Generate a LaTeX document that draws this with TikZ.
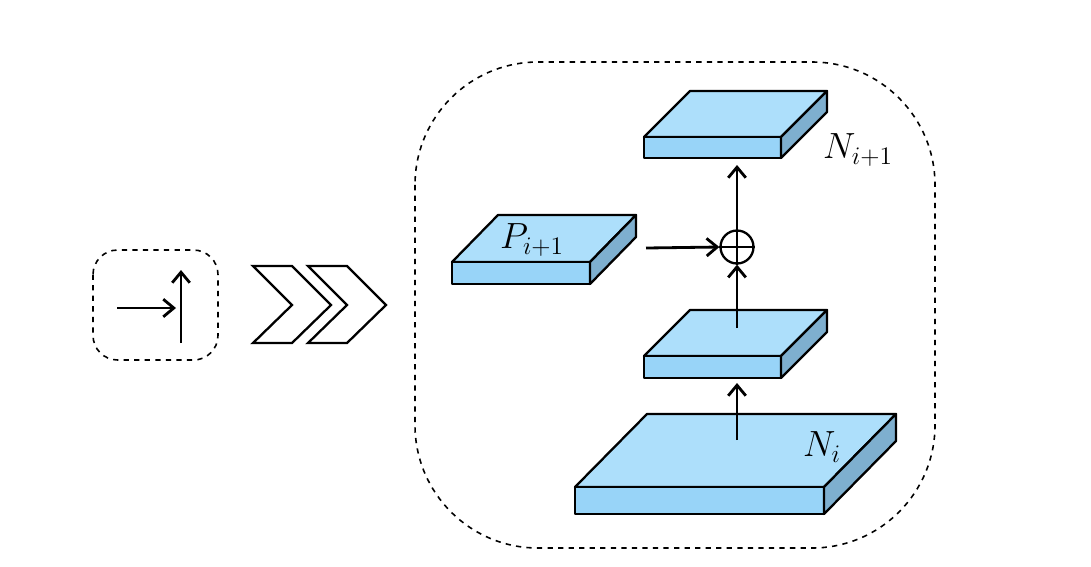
\documentclass[tikz,border=0pt]{standalone}
\usetikzlibrary{arrows.meta}
\begin{document}
\begin{tikzpicture}[x=0.02cm,y=-0.02cm,
  dbox/.style={draw,dashed,line width=0.9pt,rounded corners=14},
  arr/.style={-{Straight Barb[length=6pt,width=10pt]},line width=1.6pt},
  slabtop/.style={draw,line width=1.3pt,line join=round,fill=topc},
  slabfront/.style={draw,line width=1.3pt,line join=round,fill=frontc},
  slabside/.style={draw,line width=1.3pt,line join=round,fill=sidec},
  lab/.style={font=\fontsize{20}{22}\selectfont}]
\definecolor{topc}{HTML}{ADDFFB}
\definecolor{frontc}{HTML}{98D4F8}
\definecolor{sidec}{HTML}{7EAFCF}
\useasboundingbox[fill=white] (0,0) rectangle (1091,566);
% slab macro
\def\slab#1#2#3#4#5#6{% x1 x2 ytop ybot dx dy
  \path[slabtop] (#1,#3) -- ({#1+#5},{#3-#6}) -- ({#2+#5},{#3-#6}) -- (#2,#3) -- cycle;
  \path[slabfront] (#1,#3) rectangle (#2,#4);
  \path[slabside] (#2,#3) -- ({#2+#5},{#3-#6}) -- ({#2+#5},{#4-#6}) -- (#2,#4) -- cycle;}
% small box
\draw[dbox] (93,250) rectangle (218,360);
\coordinate (a1) at (117,308); \coordinate (a2) at (176,308);
\coordinate (b1) at (181,343); \coordinate (b2) at (181,270);
\draw[arr] (a1) -- (a2);
\draw[arr] (b1) -- (b2);
% chevrons
\foreach \s in {0,55}{
  \draw[line width=1.3pt,line join=miter,fill=white] ({253+\s},266) -- ({292+\s},266) -- ({331+\s},305) -- ({292+\s},343) -- ({253+\s},343) -- ({292+\s},305) -- cycle;}
% big box
\draw[dbox,rounded corners=70] (415,62) rectangle (935,548);
% slabs
\slab{575}{824}{487}{514}{72}{73}
\slab{644}{781}{356}{378}{46}{46}
\slab{452}{590}{262}{284}{46}{47}
\slab{644}{781}{137}{158}{46}{46}
% oplus
\node[circle,draw,line width=1.3pt,minimum size=0.66cm,inner sep=0pt] (op) at (737,247) {};
\draw[line width=1.3pt] (op.north) -- (op.south) (op.west) -- (op.east);
\coordinate (n0) at (737,440); \coordinate (m0) at (737,383);
\coordinate (m1) at (737,328); \coordinate (t0) at (737,165);
\coordinate (p0) at (646,248);
\draw[arr] (n0) -- (m0);
\draw[arr] (m1) -- (op.south);
\draw[arr] (op.north) -- (t0);
\draw[arr] (p0) -- (op.west);
% labels
\node[lab] (ln1) at (858,150) {$N_{i+1}$};
\node[lab] (lp) at (532,240) {$P_{i+1}$};
\node[lab] (ln) at (822,447) {$N_i$};
\end{tikzpicture}
\end{document}
